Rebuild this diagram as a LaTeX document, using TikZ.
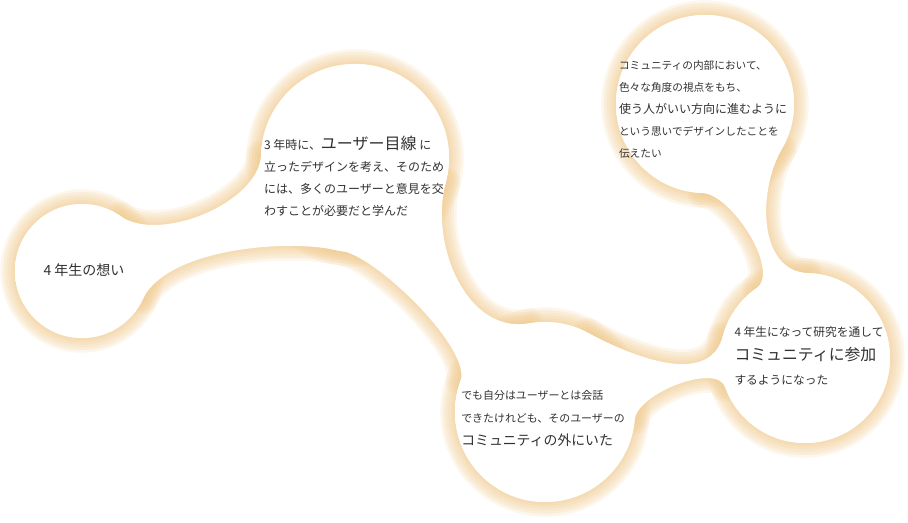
\documentclass[tikz,border=0pt]{standalone}
\usepackage{fontspec}
\setmainfont{Noto Sans CJK JP}
\definecolor{ringcol}{RGB}{240,203,145}
\definecolor{ringin}{RGB}{246,222,183}
\definecolor{ringpale}{RGB}{252,241,222}
\definecolor{textgray}{RGB}{50,50,50}
\pgfdeclareradialshading{bubbleglow}{\pgfpoint{0bp}{0bp}}{%
  color(0bp)=(white); color(32bp)=(white); color(43bp)=(ringpale); color(50bp)=(ringin)}

\tikzset{
  bubble/.style={shape=circle,inner sep=0pt,outer sep=0pt},
  soft/.style={preaction={draw=ringcol,draw opacity=0.18,line join=round,line width=#1}},
  ringline/.style={soft=22pt,soft=18pt,soft=14pt,soft=10pt,soft=6pt,
                   draw=ringcol,draw opacity=0.18,line join=round,line width=3pt},
  txt/.style={text=textgray,align=left,inner sep=0pt},
}

% bubbles: name/x/y/radius
\newcommand{\bubbles}{c1/82/251/67,c2/355/364/94,c3/705/418/89,c4/805/164/85,c5/545/110/90}
% necks between the bubbles
\newcommand{\neckpaths}{%
  (c1.55) to[out=-35,in=268,looseness=0.8] (c2.178) -- (c2.258) to[out=168,in=65,looseness=0.7] (c1.-25) -- cycle
  (c2.-15) to[out=-105,in=190] (c5.100) -- (c5.160) to[out=70,in=352,looseness=0.5] (c2.262) -- cycle
  (c5.62) to[out=-28,in=255] (c4.165) -- (c4.200) to[out=110,in=85,looseness=0.7] (c5.-5) -- cycle
  (c4.125) to[out=35,in=358,looseness=0.7] (c3.268) -- (c3.-30) to[out=-120,in=178] (c4.88) -- cycle}

\begin{document}
\begin{tikzpicture}[x=0.75pt,y=0.75pt]
\useasboundingbox (0,0) rectangle (908,522);

\foreach \n/\px/\py/\r in \bubbles
  \node[bubble,minimum size=1.5pt*\r] (\n) at (\px,\py) {};

% rims
\foreach \n/\px/\py/\r in \bubbles
  \draw[ringline] (\n.center) circle[radius=0.75pt*\r];
\draw[ringline] \neckpaths;

% insides
\fill[white] \neckpaths;
\foreach \n/\px/\py/\r in \bubbles
  \fill[white] (\n.center) circle[radius=0.75pt*\r];
\foreach \n/\px/\py/\r in \bubbles
  \shade[shading=bubbleglow] (\n.center) circle[radius=0.75pt*\r];

\node[txt,font=\fontsize{10.5}{14}\selectfont] (want) at (84,252) {4 年生の想い};
\node[txt,font=\fontsize{9}{16.5}\selectfont] (learn) at (354,346)
  {3 年時に、{\fontsize{12}{16.5}\selectfont ユーザー目線} に\\立ったデザインを考え、そのため\\には、多くのユーザーと意見を交\\わすことが必要だと学んだ};
\node[txt,font=\fontsize{8}{16.5}\selectfont] (wish) at (703,413)
  {コミュニティの内部において、\\色々な角度の視点をもち、\\{\fontsize{9}{16.5}\selectfont 使う人がいい方向に進むように}\\という思いでデザインしたことを\\伝えたい};
\node[txt,font=\fontsize{8.2}{17.25}\selectfont] (outside) at (543,104)
  {でも自分はユーザーとは会話\\できたけれども、そのユーザーの\\{\fontsize{10.4}{17.25}\selectfont コミュニティの外にいた}};
\node[txt,font=\fontsize{8.8}{18}\selectfont] (join) at (809,166)
  {4 年生になって研究を通して\\{\fontsize{11.9}{18}\selectfont コミュニティに参加}\\するようになった};
\end{tikzpicture}
\end{document}
